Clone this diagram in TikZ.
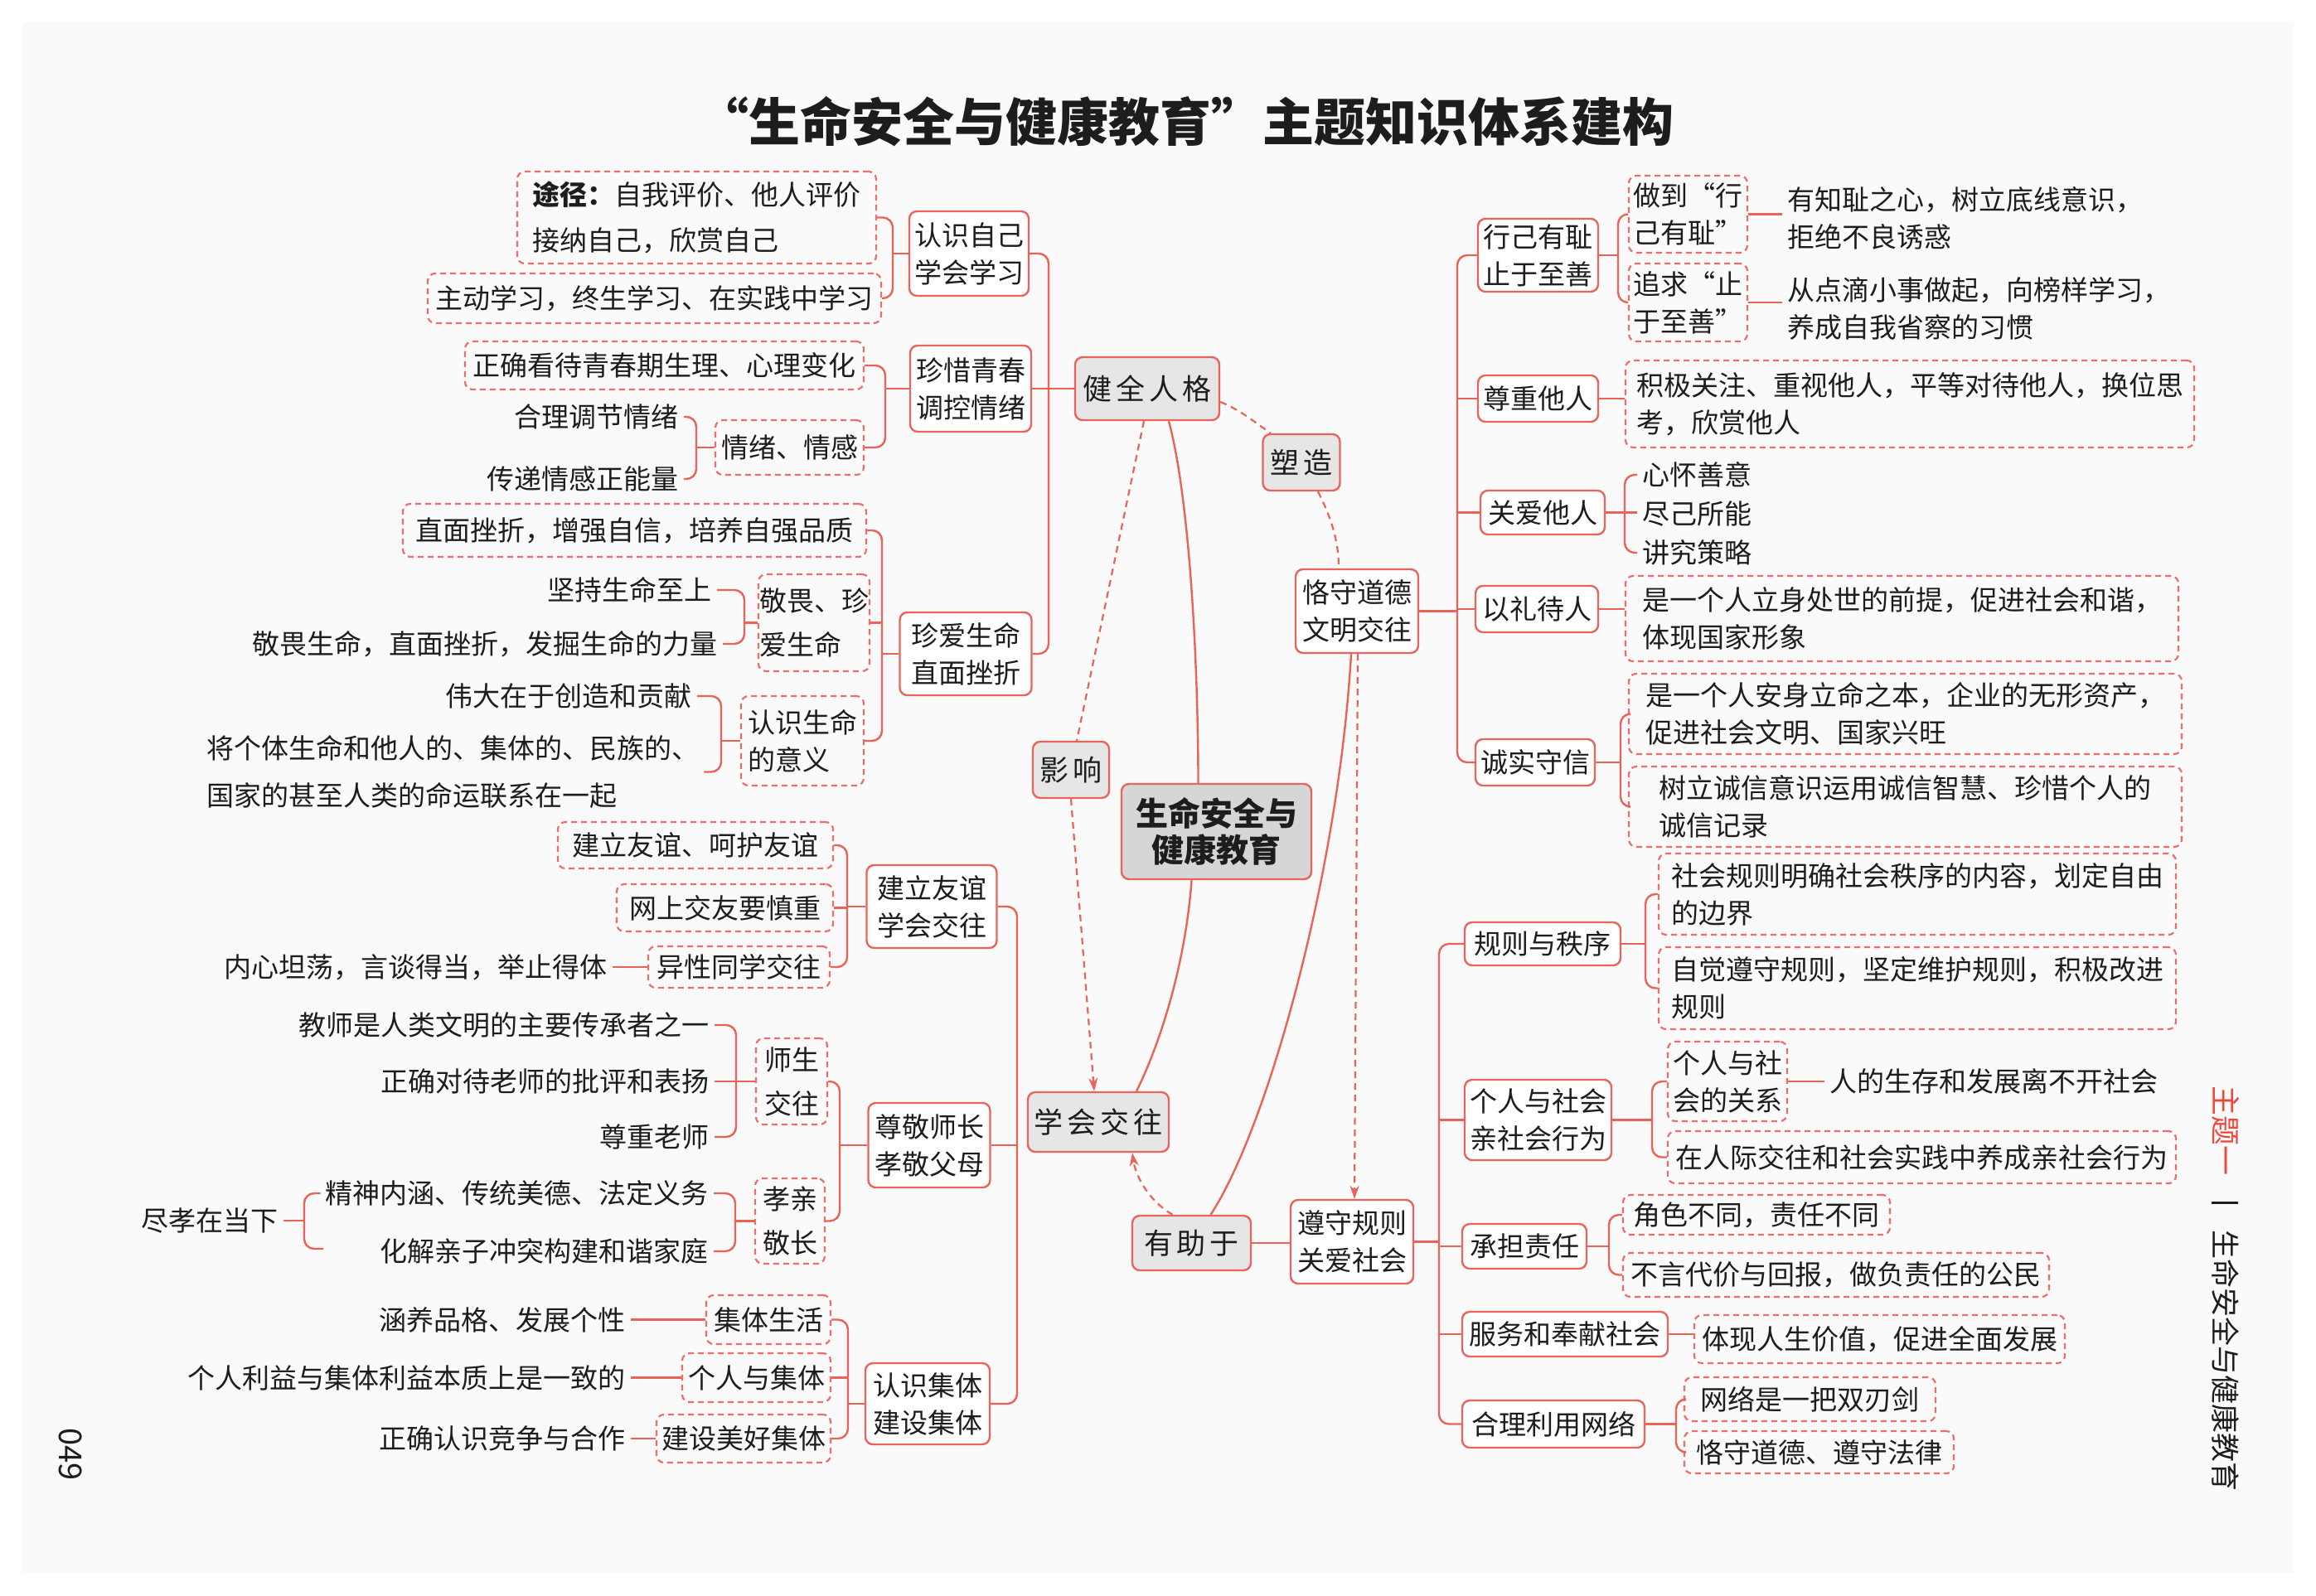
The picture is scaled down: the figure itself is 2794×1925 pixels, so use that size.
\documentclass[tikz,border=0pt]{standalone}
\usepackage{fontspec}
\setmainfont{Noto Sans CJK SC}
\newfontfamily\kaifont[LetterSpace=14]{Noto Sans CJK SC}
\usetikzlibrary{arrows.meta}
\definecolor{linered}{RGB}{234,98,88}
\definecolor{boxred}{RGB}{232,100,92}
\definecolor{dashred}{RGB}{238,108,108}
\definecolor{nodegray}{RGB}{230,230,230}
\definecolor{centergray}{RGB}{214,214,214}
\definecolor{sidered}{RGB}{238,72,62}
\definecolor{ink}{RGB}{30,28,28}
\definecolor{pagegray}{RGB}{250,250,250}
\newcommand\myfs{\fontsize{33}{45}\selectfont}
\newcommand\kaifs{\kaifont\fontsize{35}{45}\selectfont}
\begin{document}
\begin{tikzpicture}[x=1pt,y=-1pt,
  every node/.style={inner sep=0pt, text=ink, font=\myfs},
  sbox/.style={draw=boxred, line width=2.4pt, rounded corners=9pt, fill=white, align=center},
  gbox/.style={sbox, fill=nodegray, font=\kaifs},
  dbox/.style={draw=dashred, line width=2.2pt, dash pattern=on 7pt off 5pt, rounded corners=9pt},
  tx/.style={inner xsep=6pt},
  conn/.style={draw=linered, line width=2.4pt, rounded corners=12pt},
  dconn/.style={draw=linered, line width=2.2pt, dash pattern=on 8pt off 6pt},
  arr/.style={-{Stealth[length=16pt,width=11pt]}}]
\useasboundingbox (0,0) rectangle (2794,1925);
\fill[white] (0,0) rectangle (2794,1925);
\fill[pagegray] (27,27) rectangle (2767,1898);

% title
\node[font=\bfseries\fontsize{62}{62}\selectfont] (TT) at (1430,147) {“生命安全与健康教育”主题知识体系建构};

% ---------- left top: 健全人格 ----------
\node[dbox, minimum width=433pt, minimum height=111pt, align=left] (A1) at (840.5,262.5) {\textbf{途径：}自我评价、他人评价\\[10pt]接纳自己，欣赏自己};
\node[dbox, minimum width=547pt, minimum height=60pt] (A2) at (789.5,360) {主动学习，终生学习、在实践中学习};
\node[sbox, minimum width=144pt, minimum height=102pt] (K1) at (1169,306) {认识自己\\学会学习};
\coordinate (bK1) at (1077,306);
\draw[conn] (A1.east) -| (bK1) |- (A2.east);
\draw[conn] (K1.west) -- (bK1);

\node[sbox, minimum width=146pt, minimum height=104pt] (K2) at (1171,469) {珍惜青春\\调控情绪};
\node[dbox, minimum width=481pt, minimum height=58pt] (A3) at (801.5,441) {正确看待青春期生理、心理变化};
\node[dbox, minimum width=179pt, minimum height=66pt] (A4) at (952.5,540) {情绪、情感};
\node[tx, anchor=east] (T1) at (825,503) {合理调节情绪};
\node[tx, anchor=east] (T2) at (825,578) {传递情感正能量};
\coordinate (bK2) at (1068,469);
\draw[conn] (A3.east) -| (bK2) |- (A4.east);
\draw[conn] (K2.west) -- (bK2);
\coordinate (bA4) at (840,540);
\draw[conn] (T1.east) -| (bA4) |- (T2.east);
\draw[conn] (A4.west) -- (bA4);

\node[dbox, minimum width=559pt, minimum height=64pt] (A5) at (765.5,640) {直面挫折，增强自信，培养自强品质};
\node[dbox, minimum width=134pt, minimum height=117pt, align=left] (A6) at (982,751.5) {敬畏、珍\\[8pt]爱生命};
\node[tx, anchor=east] (T3) at (865,712) {坚持生命至上};
\node[tx, anchor=east] (T4) at (872,777) {敬畏生命，直面挫折，发掘生命的力量};
\coordinate (bA6) at (898,751.5);
\draw[conn] (T3.east) -| (bA6) |- (T4.east);
\draw[conn] (A6.west) -- (bA6);

\node[dbox, minimum width=148pt, minimum height=108pt, align=left] (A7) at (968,894) {认识生命\\的意义};
\node[tx, anchor=east] (T5) at (841,840) {伟大在于创造和贡献};
\node[tx, anchor=west, align=left] (T6) at (243,931.5) {将个体生命和他人的、集体的、民族的、\\[12pt]国家的甚至人类的命运联系在一起};
\coordinate (bA7) at (870,894);
\draw[conn] (T5.east) -| (bA7) |- (T6.east);
\draw[conn] (A7.west) -- (bA7);

\node[sbox, minimum width=159pt, minimum height=100pt] (K3) at (1165,789) {珍爱生命\\直面挫折};
\coordinate (bK3) at (1064,789);
\draw[conn] (A5.east) -| (bK3) |- (A7.east);
\draw[conn] (A6.east) -- (A6.east -| bK3);
\draw[conn] (K3.west) -- (bK3);

\node[gbox, minimum width=174pt, minimum height=76pt] (J) at (1384,469) {健全人格};
\coordinate (s1) at (1265,469);
\draw[conn] (K1.east) -| (s1) |- (K3.east);
\draw[conn] (K2.east) -- (J.west);

% ---------- left bottom: 学会交往 ----------
\node[dbox, minimum width=332pt, minimum height=56pt] (B1) at (839,1020) {建立友谊、呵护友谊};
\node[dbox, minimum width=261pt, minimum height=57pt] (B2) at (874.5,1095.5) {网上交友要慎重};
\node[dbox, minimum width=219pt, minimum height=50pt] (B3) at (891.5,1167) {异性同学交往};
\node[tx, anchor=east] (T7) at (739,1167) {内心坦荡，言谈得当，举止得体};
\draw[conn] (B3.west) -- (T7.east);
\node[sbox, minimum width=157pt, minimum height=100pt] (K4) at (1124,1094) {建立友谊\\学会交往};
\coordinate (bK4) at (1022,1094);
\draw[conn] (B1.east) -| (bK4) |- (B3.east);
\draw[conn] (B2.east) -- (B2.east -| bK4);
\draw[conn] (K4.west) -- (bK4);

\node[dbox, minimum width=86pt, minimum height=104pt, align=left] (B4) at (955,1305) {师生\\[8pt]交往};
\node[tx, anchor=east] (T8) at (862,1237) {教师是人类文明的主要传承者之一};
\node[tx, anchor=east] (T9) at (862,1305) {正确对待老师的批评和表扬};
\node[tx, anchor=east] (T10) at (862,1372) {尊重老师};
\coordinate (bB4) at (888,1305);
\draw[conn] (T8.east) -| (bB4) |- (T10.east);
\draw[conn] (T9.east) -- (B4.west);

\node[dbox, minimum width=84pt, minimum height=103pt, align=left] (B5) at (953,1473.5) {孝亲\\[8pt]敬长};
\node[tx, anchor=east] (T11) at (861,1440) {精神内涵、传统美德、法定义务};
\node[tx, anchor=east] (T12) at (861,1510) {化解亲子冲突构建和谐家庭};
\coordinate (bB5) at (887,1473.5);
\draw[conn] (T11.east) -| (bB5) |- (T12.east);
\draw[conn] (B5.west) -- (bB5);
\node[tx, anchor=east] (T13) at (342,1473) {尽孝在当下};
\coordinate (bT13) at (367,1473);
\coordinate (hk) at (390,1507);
\draw[conn] (T11.west) -| (bT13) |- (hk);
\draw[conn] (T13.east) -- (bT13);

\node[sbox, minimum width=147pt, minimum height=102pt] (K5) at (1121,1382) {尊敬师长\\孝敬父母};
\coordinate (bK5) at (1013,1382);
\draw[conn] (B4.east) -| (bK5) |- (B5.east);
\draw[conn] (K5.west) -- (bK5);

\node[dbox, minimum width=150pt, minimum height=59pt] (B6) at (927,1592.5) {集体生活};
\node[dbox, minimum width=179pt, minimum height=59pt] (B7) at (912.5,1662.5) {个人与集体};
\node[dbox, minimum width=210pt, minimum height=58pt] (B8) at (897,1736) {建设美好集体};
\node[tx, anchor=east] (T14) at (761,1592.5) {涵养品格、发展个性};
\node[tx, anchor=east] (T15) at (761,1662.5) {个人利益与集体利益本质上是一致的};
\node[tx, anchor=east] (T16) at (761,1736) {正确认识竞争与合作};
\draw[conn] (B6.west) -- (T14.east);
\draw[conn] (B7.west) -- (T15.east);
\draw[conn] (B8.west) -- (T16.east);
\node[sbox, minimum width=150pt, minimum height=98pt] (K6) at (1119,1694) {认识集体\\建设集体};
\coordinate (bK6) at (1023,1694);
\draw[conn] (B6.east) -| (bK6) |- (B8.east);
\draw[conn] (B7.east) -- (B7.east -| bK6);
\draw[conn] (K6.west) -- (bK6);

\coordinate (s2) at (1227,1382);
\draw[conn] (K4.east) -| (s2) |- (K6.east);
\draw[conn] (K5.east) -- (s2);

% ---------- centre ----------
\node[gbox, minimum width=93pt, minimum height=68pt] (SZ) at (1570,558) {塑造};
\node[sbox, minimum width=148pt, minimum height=101pt] (KS) at (1637,737.5) {恪守道德\\文明交往};
\node[gbox, minimum width=92pt, minimum height=68pt] (YX) at (1292,929) {影响};
\node[gbox, fill=centergray, minimum width=229pt, minimum height=115pt, font=\bfseries\fontsize{39}{44}\selectfont] (C) at (1467.5,1003.5) {生命安全与\\健康教育};
\node[gbox, minimum width=170pt, minimum height=72pt] (XH) at (1325,1354) {学会交往};
\node[gbox, minimum width=143pt, minimum height=66pt] (YZ) at (1437.5,1500) {有助于};
\node[sbox, minimum width=148pt, minimum height=101pt] (ZS) at (1631,1498.5) {遵守规则\\关爱社会};

\draw[conn] (YZ.east) -- (YZ.east -| ZS.west);
\draw[conn] ([xshift=26pt]J.south) .. controls +(25,93) and +(0,-146) .. ([xshift=-22pt]C.north);
\draw[dconn] ([xshift=-4pt]J.south) -- ([xshift=7pt]YX.north);
\draw[dconn, arr] (YX.south) -- ([xshift=-5pt]XH.north);
\draw[dconn] ([yshift=-16pt]J.east) .. controls +(25,10) and +(-15,-10) .. ([xshift=-37pt]SZ.north);
\draw[dconn] ([xshift=20pt]SZ.south) .. controls +(15,30) and +(0,-35) .. ([xshift=-22pt]KS.north);
\draw[dconn, arr] ([xshift=1pt]KS.south) -- ([xshift=3pt]ZS.north);
\draw[conn] ([xshift=-7pt]KS.south) .. controls +(-15,260) and +(70,-107) .. ([xshift=23pt]YZ.north);
\draw[conn] ([xshift=-30pt]C.south) .. controls +(-7,99) and +(29,-58) .. ([xshift=46pt]XH.north);
\draw[dconn, arr] ([xshift=-23pt]YZ.north) .. controls +(-29,-17) and +(4,28) .. ([xshift=41pt]XH.south);

% ---------- right top ----------
\node[sbox, minimum width=145pt, minimum height=88pt] (R1) at (1855.5,308) {行己有耻\\止于至善};
\node[dbox, minimum width=143pt, minimum height=93pt, align=left] (C1) at (2036.5,258.5) {做到“行\\己有耻”};
\node[dbox, minimum width=143pt, minimum height=94pt, align=left] (C2) at (2036.5,365) {追求“止\\于至善”};
\node[tx, anchor=west, align=left] (TR1) at (2150,263.5) {有知耻之心，树立底线意识，\\拒绝不良诱惑};
\node[tx, anchor=west, align=left] (TR2) at (2150,372.5) {从点滴小事做起，向榜样学习，\\养成自我省察的习惯};
\draw[conn] (C1.east) -- (C1.east -| TR1.west);
\draw[conn] (C2.east) -- (C2.east -| TR2.west);
\coordinate (bR1) at (1952,308);
\draw[conn] (C1.west) -| (bR1) |- (C2.west);
\draw[conn] (R1.east) -- (bR1);

\node[sbox, minimum width=145pt, minimum height=56pt] (R2) at (1855.5,481) {尊重他人};
\node[dbox, minimum width=686pt, minimum height=105pt, align=left] (C3) at (2304,487.5) {积极关注、重视他人，平等对待他人，换位思\\考，欣赏他人};
\draw[conn] (R2.east) -- (R2.east -| C3.west);

\node[sbox, minimum width=150pt, minimum height=53pt] (R3) at (1861,618.5) {关爱他人};
\node[tx, anchor=west] (TR3) at (1975,573) {心怀善意};
\node[tx, anchor=west] (TR4) at (1975,620) {尽己所能};
\node[tx, anchor=west] (TR5) at (1975,667) {讲究策略};
\coordinate (bR3) at (1960,618.5);
\draw[conn] (TR3.west) -| (bR3) |- (TR5.west);
\draw[conn] (R3.east) -- (R3.east -| TR4.west);

\node[sbox, minimum width=148pt, minimum height=56pt] (R4) at (1854,735) {以礼待人};
\node[dbox, minimum width=667pt, minimum height=103pt, align=left] (C4) at (2294.5,746.5) {是一个人立身处世的前提，促进社会和谐，\\体现国家形象};
\draw[conn] (R4.east) -- (R4.east -| C4.west);

\node[sbox, minimum width=144pt, minimum height=56pt] (R5) at (1852,920) {诚实守信};
\node[dbox, minimum width=667pt, minimum height=97pt, align=left] (C5) at (2298.5,861.5) {是一个人安身立命之本，企业的无形资产，\\促进社会文明、国家兴旺};
\node[dbox, minimum width=667pt, minimum height=97pt, align=left] (C6) at (2298.5,973.5) {树立诚信意识运用诚信智慧、珍惜个人的\\诚信记录};
\coordinate (bR5) at (1955,920);
\draw[conn] (C5.west) -| (bR5) |- (C6.west);
\draw[conn] (R5.east) -- (bR5);

\coordinate (s3) at (1758,737.5);
\draw[conn] (KS.east) -- (s3);
\draw[conn] (R1.west) -| (s3) |- (R5.west);
\draw[conn] (R2.west) -- (R2.west -| s3);
\draw[conn] (R3.west) -- (R3.west -| s3);
\draw[conn] (R4.west) -- (R4.west -| s3);

% ---------- right bottom ----------
\node[sbox, minimum width=188pt, minimum height=52pt] (R6) at (1861,1139) {规则与秩序};
\node[dbox, minimum width=624pt, minimum height=98pt, align=left] (C7) at (2313,1079) {社会规则明确社会秩序的内容，划定自由\\的边界};
\node[dbox, minimum width=624pt, minimum height=99pt, align=left] (C8) at (2313,1192.5) {自觉遵守规则，坚定维护规则，积极改进\\规则};
\coordinate (bR6) at (1985,1139);
\draw[conn] (C7.west) -| (bR6) |- (C8.west);
\draw[conn] (R6.east) -- (bR6);

\node[sbox, minimum width=177pt, minimum height=97pt] (R7) at (1855.5,1351.5) {个人与社会\\亲社会行为};
\node[dbox, minimum width=144pt, minimum height=96pt, align=left] (C9) at (2084,1305) {个人与社\\会的关系};
\node[tx, anchor=west] (TR6) at (2201,1305) {人的生存和发展离不开社会};
\draw[conn] (C9.east) -- (TR6.west);
\node[dbox, minimum width=613pt, minimum height=63pt] (C10) at (2318.5,1396.5) {在人际交往和社会实践中养成亲社会行为};
\coordinate (bR7) at (1993,1351.5);
\draw[conn] (C9.west) -| (bR7) |- (C10.west);
\draw[conn] (R7.east) -- (bR7);

\node[sbox, minimum width=150pt, minimum height=54pt] (R8) at (1839,1504) {承担责任};
\node[dbox, minimum width=322pt, minimum height=48pt] (C11) at (2119,1466) {角色不同，责任不同};
\node[dbox, minimum width=514pt, minimum height=53pt] (C12) at (2215,1538.5) {不言代价与回报，做负责任的公民};
\coordinate (bR8) at (1941,1504);
\draw[conn] (C11.west) -| (bR8) |- (C12.west);
\draw[conn] (R8.east) -- (bR8);

\node[sbox, minimum width=248pt, minimum height=54pt] (R9) at (1888,1610) {服务和奉献社会};
\node[dbox, minimum width=447pt, minimum height=58pt] (C13) at (2267.5,1616) {体现人生价值，促进全面发展};
\draw[conn] (R9.east) -- (R9.east -| C13.west);

\node[sbox, minimum width=220pt, minimum height=57pt] (R10) at (1874,1718.5) {合理利用网络};
\node[dbox, minimum width=303pt, minimum height=53pt] (C14) at (2183.5,1688.5) {网络是一把双刃剑};
\node[dbox, minimum width=325pt, minimum height=51pt] (C15) at (2194.5,1752.5) {恪守道德、遵守法律};
\coordinate (bR10) at (2022,1718.5);
\draw[conn] (C14.west) -| (bR10) |- (C15.west);
\draw[conn] (R10.east) -- (bR10);

\coordinate (s4) at (1736,1498.5);
\draw[conn] (ZS.east) -- (s4);
\draw[conn] (R6.west) -| (s4) |- (R10.west);
\draw[conn] (R7.west) -- (R7.west -| s4);
\draw[conn] (R8.west) -- (R8.west -| s4);
\draw[conn] (R9.west) -- (R9.west -| s4);

% ---------- side tab and page number ----------
\node[rotate=-90, text=sidered, font=\fontsize{36}{36}\selectfont] (S1) at (2685,1364.5) {主题一};
\coordinate (sep1) at (2668,1451);
\coordinate (sep2) at (2700,1451);
\draw[line width=3pt, ink] (sep1) -- (sep2);
\node[rotate=-90, font=\fontsize{35}{35}\selectfont] (S2) at (2685,1642) {生命安全与健康教育};
\node[rotate=-90, font=\fontsize{38}{38}\selectfont] (PG) at (85,1755) {049};
\end{tikzpicture}
\end{document}
